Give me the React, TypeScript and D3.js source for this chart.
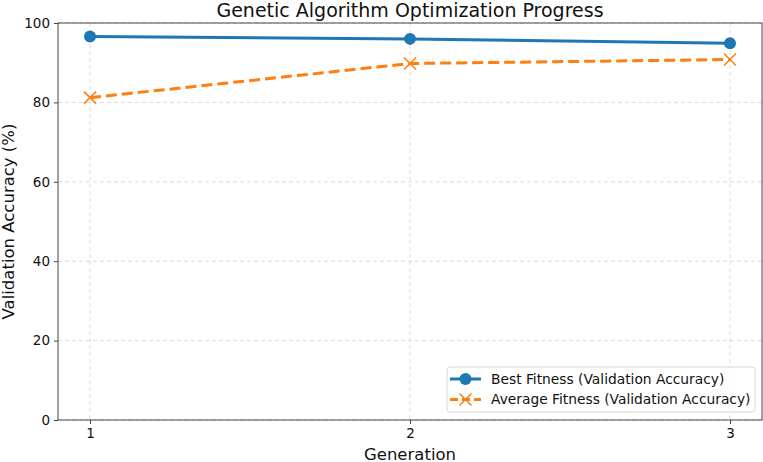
import { useEffect, useRef } from 'react'
import * as d3 from 'd3'

const generations = [1, 2, 3]
const bestFitness = [96.6, 96.0, 94.9]
const avgFitness = [81.2, 89.8, 90.8]
const yTicks = [0, 20, 40, 60, 80, 100]

export default function App() {
  const svgRef = useRef<SVGSVGElement>(null)

  useEffect(() => {
    if (!svgRef.current) return
    const svg = d3.select(svgRef.current)
    svg.selectAll('*').remove()

    const margin = { top: 23, right: 1, bottom: 42, left: 58 }
    const W = 763
    const H = 462
    const width = W - margin.left - margin.right
    const height = H - margin.top - margin.bottom
    const font = 'DejaVu Sans, sans-serif'

    const x = d3.scaleLinear().domain([0.9, 3.1]).range([0, width])
    const y = d3.scaleLinear().domain([0, 100]).range([height, 0])

    const g = svg.append('g').attr('transform', `translate(${margin.left},${margin.top})`)

    // grid
    g.append('g')
      .selectAll('line')
      .data(yTicks)
      .join('line')
      .attr('x1', 0)
      .attr('x2', width)
      .attr('y1', d => y(d))
      .attr('y2', d => y(d))
      .attr('stroke', '#d0d0d0')
      .attr('stroke-dasharray', '4,3')
      .attr('stroke-width', 0.8)

    g.append('g')
      .selectAll('line')
      .data(generations)
      .join('line')
      .attr('x1', d => x(d))
      .attr('x2', d => x(d))
      .attr('y1', 0)
      .attr('y2', height)
      .attr('stroke', '#d0d0d0')
      .attr('stroke-dasharray', '4,3')
      .attr('stroke-width', 0.8)

    // axes
    const xAxis = g.append('g')
      .attr('transform', `translate(0,${height})`)
      .call(d3.axisBottom(x).tickValues(generations).tickFormat(d3.format('d')).tickSize(4).tickPadding(4))
    const yAxis = g.append('g')
      .call(d3.axisLeft(y).tickValues(yTicks).tickSize(4).tickPadding(4))

    for (const ax of [xAxis, yAxis]) {
      ax.select('.domain').remove()
      ax.selectAll('line').attr('stroke', '#444')
      ax.selectAll('text').attr('font-family', font).attr('font-size', 13.5).attr('fill', '#111')
    }

    // frame
    g.append('rect')
      .attr('width', width)
      .attr('height', height)
      .attr('fill', 'none')
      .attr('stroke', '#444')
      .attr('stroke-width', 1)

    const line = d3.line<number>()
      .x((d, i) => x(generations[i]))
      .y(d => y(d))

    // average
    g.append('path')
      .datum(avgFitness)
      .attr('fill', 'none')
      .attr('stroke', '#ff7f0e')
      .attr('stroke-width', 3)
      .attr('stroke-dasharray', '11,5')
      .attr('d', line)

    const s = 6
    g.append('g')
      .selectAll('path')
      .data(avgFitness)
      .join('path')
      .attr('d', (d, i) => {
        const cx = x(generations[i])
        const cy = y(d)
        return `M${cx - s},${cy - s}L${cx + s},${cy + s}M${cx - s},${cy + s}L${cx + s},${cy - s}`
      })
      .attr('stroke', '#ff7f0e')
      .attr('stroke-width', 1.5)

    // best
    g.append('path')
      .datum(bestFitness)
      .attr('fill', 'none')
      .attr('stroke', '#1f77b4')
      .attr('stroke-width', 3)
      .attr('d', line)

    g.append('g')
      .selectAll('circle')
      .data(bestFitness)
      .join('circle')
      .attr('cx', (d, i) => x(generations[i]))
      .attr('cy', d => y(d))
      .attr('r', 6)
      .attr('fill', '#1f77b4')

    // title and labels
    svg.append('text')
      .attr('x', margin.left + width / 2)
      .attr('y', 17)
      .attr('text-anchor', 'middle')
      .attr('font-family', font)
      .attr('font-size', 19)
      .attr('fill', '#111')
      .text('Genetic Algorithm Optimization Progress')

    svg.append('text')
      .attr('x', margin.left + width / 2)
      .attr('y', 460)
      .attr('text-anchor', 'middle')
      .attr('font-family', font)
      .attr('font-size', 16.5)
      .attr('fill', '#111')
      .text('Generation')

    svg.append('text')
      .attr('transform', `translate(14,${margin.top + height / 2}) rotate(-90)`)
      .attr('text-anchor', 'middle')
      .attr('font-family', font)
      .attr('font-size', 16.5)
      .attr('fill', '#111')
      .text('Validation Accuracy (%)')

    // legend
    const lg = svg.append('g').attr('transform', 'translate(447,367)')
    lg.append('rect')
      .attr('width', 308)
      .attr('height', 45)
      .attr('rx', 3)
      .attr('fill', 'white')
      .attr('fill-opacity', 0.8)
      .attr('stroke', '#d6d6d6')

    const items = [
      { label: 'Best Fitness (Validation Accuracy)', color: '#1f77b4', dash: null, marker: 'circle' },
      { label: 'Average Fitness (Validation Accuracy)', color: '#ff7f0e', dash: '8,4', marker: 'x' },
    ]
    items.forEach((it, i) => {
      const ry = 12 + i * 20.5
      const row = lg.append('g').attr('transform', `translate(0,${ry})`)
      row.append('line')
        .attr('x1', 3).attr('x2', 34)
        .attr('y1', 0).attr('y2', 0)
        .attr('stroke', it.color)
        .attr('stroke-width', 3)
        .attr('stroke-dasharray', it.dash)
      if (it.marker === 'circle') {
        row.append('circle').attr('cx', 18.5).attr('cy', 0).attr('r', 6).attr('fill', it.color)
      } else {
        row.append('path')
          .attr('d', `M12.5,-6L24.5,6M12.5,6L24.5,-6`)
          .attr('stroke', it.color)
          .attr('stroke-width', 1.5)
      }
      row.append('text')
        .attr('x', 44)
        .attr('y', 0)
        .attr('dy', '0.35em')
        .attr('font-family', font)
        .attr('font-size', 13.8)
        .attr('fill', '#111')
        .text(it.label)
    })
  }, [])

  return (
    <svg
      ref={svgRef}
      width={763}
      height={462}
      style={{ position: 'absolute', left: 0, top: 0, background: 'white' }}
    />
  )
}
